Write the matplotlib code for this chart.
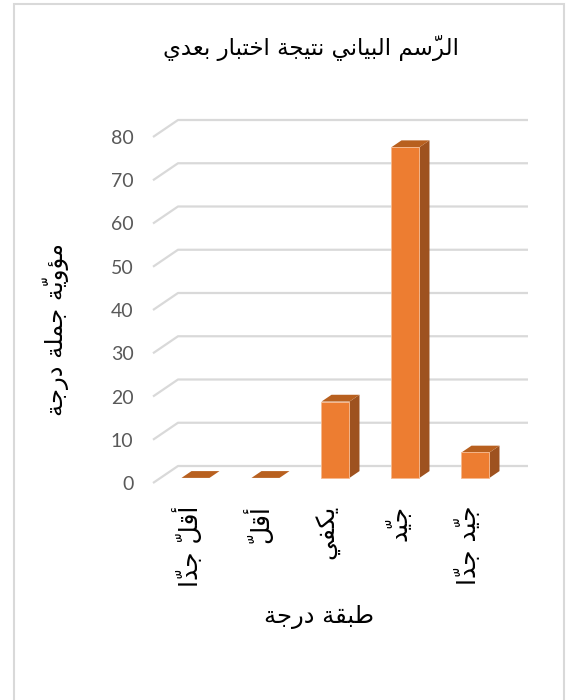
#!/usr/bin/env python3
"""Post-test result chart (Arabic labels), drawn as an Excel-style 3D column."""

import matplotlib

matplotlib.use("Agg")
import matplotlib.pyplot as plt
from matplotlib.patches import Polygon, Rectangle

TITLE = "الرّسم البياني نتيجة اختبار بعدي"
X_TITLE = "طبقة درجة"
Y_TITLE = "مؤويّة جملة درجة"

categories = ["أقلّ جدّا", "أقلّ", "يكفي", "جيّد", "جيّد جدّا"]
percent = [0.0, 0.0, 17.65, 76.47, 5.88]
y_ticks = [0, 10, 20, 30, 40, 50, 60, 70, 80]

FRONT = "#ED7D31"
SIDE = "#9E521F"
TOP = "#B8601F"
GRID = "#D9D9D9"
TICK_GREY = "#595959"

# fake-3D geometry, in data units (x: category, y: percent)
DEPTH_X = 0.357
DEPTH_Y = 3.93
BAR_W = 0.40
BAR_FRONT = 0.30   # fraction of the depth where the bar starts
BAR_BACK = 0.70

# presentation forms: char -> (isolated code point, number of forms)
_FORMS = {
    "ء": (0xFE80, 1), "آ": (0xFE81, 2), "أ": (0xFE83, 2), "ؤ": (0xFE85, 2),
    "إ": (0xFE87, 2), "ئ": (0xFE89, 4), "ا": (0xFE8D, 2), "ب": (0xFE8F, 4),
    "ة": (0xFE93, 2), "ت": (0xFE95, 4), "ث": (0xFE99, 4), "ج": (0xFE9D, 4),
    "ح": (0xFEA1, 4), "خ": (0xFEA5, 4), "د": (0xFEA9, 2), "ذ": (0xFEAB, 2),
    "ر": (0xFEAD, 2), "ز": (0xFEAF, 2), "س": (0xFEB1, 4), "ش": (0xFEB5, 4),
    "ص": (0xFEB9, 4), "ض": (0xFEBD, 4), "ط": (0xFEC1, 4), "ظ": (0xFEC5, 4),
    "ع": (0xFEC9, 4), "غ": (0xFECD, 4), "ف": (0xFED1, 4), "ق": (0xFED5, 4),
    "ك": (0xFED9, 4), "ل": (0xFEDD, 4), "م": (0xFEE1, 4), "ن": (0xFEE5, 4),
    "ه": (0xFEE9, 4), "و": (0xFEED, 2), "ى": (0xFEEF, 2), "ي": (0xFEF1, 4),
}


def shape(text):
    """Minimal Arabic shaping + RTL reordering (matplotlib does neither)."""
    clusters = []
    for ch in text:
        if 0x064B <= ord(ch) <= 0x0652 and clusters:
            clusters[-1][1] += ch  # harakat stay with their base letter
        else:
            clusters.append([ch, ""])
    out = []
    for i, (ch, marks) in enumerate(clusters):
        if ch not in _FORMS:
            out.append(marks + ch)
            continue
        code, nforms = _FORMS[ch]
        prev = clusters[i - 1][0] if i > 0 else None
        nxt = clusters[i + 1][0] if i + 1 < len(clusters) else None
        join_prev = prev in _FORMS and _FORMS[prev][1] == 4 and nforms > 1
        join_next = nforms == 4 and nxt in _FORMS
        if join_prev and join_next:
            form = 3
        elif join_prev:
            form = 1
        elif join_next:
            form = 2
        else:
            form = 0
        # zero-width marks in DejaVu draw to the right of the pen, so they go
        # in front of their letter once the run is reversed
        out.append(marks + chr(code + form))
    return "".join(reversed(out))


def px(x, y):
    """Reference pixel (top-left origin) -> figure fraction."""
    return x / 567, 1 - y / 700


def main():
    plt.rcParams["font.family"] = ["DejaVu Sans"]
    fig = plt.figure(figsize=(5.67, 7.0), dpi=100)
    fig.patches.append(Rectangle((14 / 567, -0.02), 550 / 567, 1.02 - 4 / 700,
                                 transform=fig.transFigure, fill=False,
                                 edgecolor=GRID, linewidth=1.5))

    x0, y0 = px(153, 483)
    ax = fig.add_axes([x0, y0, 350 / 567, 346 / 700])
    ax.set_xlim(-0.5, len(categories) - 0.5)
    ax.set_ylim(0, 80)
    for s in ax.spines.values():
        s.set_visible(False)
    ax.set_facecolor("none")

    # back wall grid with the short slanted floor segment at the left
    left, right = -0.5, len(categories) - 0.5
    for v in y_ticks:
        ax.plot([left, left + DEPTH_X, right + DEPTH_X],
                [v, v + DEPTH_Y, v + DEPTH_Y],
                color=GRID, linewidth=1.6, clip_on=False, zorder=1,
                solid_capstyle="butt")

    for i, val in enumerate(percent):
        fx = i - BAR_W / 2 + BAR_FRONT * DEPTH_X
        fy = BAR_FRONT * DEPTH_Y
        dx = (BAR_BACK - BAR_FRONT) * DEPTH_X
        dy = (BAR_BACK - BAR_FRONT) * DEPTH_Y
        top = fy + val
        side = [(fx + BAR_W, fy), (fx + BAR_W + dx, fy + dy),
                (fx + BAR_W + dx, top + dy), (fx + BAR_W, top)]
        lid = [(fx, top), (fx + BAR_W, top),
               (fx + BAR_W + dx, top + dy), (fx + dx, top + dy)]
        front = [(fx, fy), (fx + BAR_W, fy), (fx + BAR_W, top), (fx, top)]
        ax.add_patch(Polygon(side, closed=True, facecolor=SIDE,
                             edgecolor="none", clip_on=False, zorder=3))
        ax.add_patch(Polygon(lid, closed=True, facecolor=TOP,
                             edgecolor="none", clip_on=False, zorder=3))
        if val > 0:
            ax.add_patch(Polygon(front, closed=True, facecolor=FRONT,
                                 edgecolor="#F6B98F", linewidth=0.6,
                                 clip_on=False, zorder=4))

    ax.set_yticks(y_ticks)
    ax.set_yticklabels([str(v) for v in y_ticks], family=["Lato"],
                       fontsize=14, color=TICK_GREY)
    ax.tick_params(axis="y", length=0, pad=14)
    ax.set_xticks(range(len(categories)))
    ax.set_xticklabels([shape(c) for c in categories], rotation=90,
                       fontsize=18, color="black", va="top")
    ax.tick_params(axis="x", length=0, pad=16)

    fig.text(*px(311, 48), shape(TITLE), fontsize=16.5, ha="center",
             va="center", color="black")
    fig.text(*px(319, 617), shape(X_TITLE), fontsize=17.5, ha="center",
             va="center", color="black")
    fig.text(*px(56, 330), shape(Y_TITLE), fontsize=17.5, ha="center",
             va="center", rotation=90, color="black")

    fig.savefig("out.png", dpi=100)


if __name__ == "__main__":
    main()
